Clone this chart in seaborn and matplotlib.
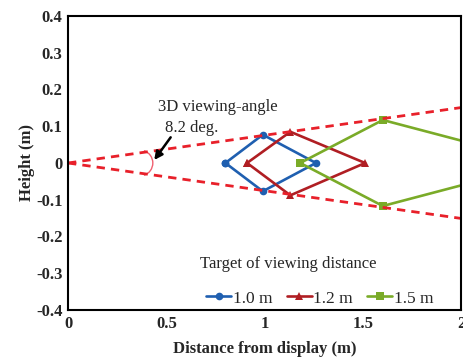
import numpy as np
import pandas as pd
import matplotlib
matplotlib.use("Agg")
import matplotlib.pyplot as plt
from matplotlib.patches import Arc
import seaborn as sns

# Data
series_names = ["1.0 m", "1.2 m", "1.5 m"]
x_10 = [0.80, 0.99, 1.26, 0.99, 0.80]
y_10 = [0.0, 0.077, 0.0, -0.077, 0.0]
x_12 = [0.91, 1.13, 1.51, 1.13, 0.91]
y_12 = [0.0, 0.085, 0.0, -0.088, 0.0]
x_15 = [1.18, 1.60, 2.43, 1.60, 1.18]
y_15 = [0.0, 0.117, 0.0, -0.117, 0.0]
boundary_x = [0.0, 2.0]
boundary_upper = [0.0, 0.151]
boundary_lower = [0.0, -0.151]
x_ticks = [0, 0.5, 1, 1.5, 2]
x_ticklabels = ["0", "0.5", "1", "1.5", "2"]
y_ticks = [-0.4, -0.3, -0.2, -0.1, 0, 0.1, 0.2, 0.3, 0.4]
y_ticklabels = ["-0.4", "-0.3", "-0.2", "-0.1", "0", "0.1", "0.2", "0.3", "0.4"]

sns.set_style("white")
plt.rcParams["font.family"] = ["Liberation Serif", "DejaVu Serif"]

fig = plt.figure(figsize=(4.64, 3.58), dpi=100)
ax = fig.add_axes([0.1466, 0.1341, 0.848, 0.8212])

colors = ["#1f5fb0", "#b01e23", "#7aab28"]
markers = ["o", "^", "s"]
rows = []
for name, xs, ys in zip(series_names, [x_10, x_12, x_15], [y_10, y_12, y_15]):
    for i, (xv, yv) in enumerate(zip(xs, ys)):
        rows.append({"series": name, "order": i, "x": xv, "y": yv})
df = pd.DataFrame(rows)

sns.lineplot(data=df, x="x", y="y", hue="series", style="series", sort=False,
             units="series", estimator=None, palette=colors, markers=markers,
             dashes=False, markersize=5.5, linewidth=1.9, markeredgewidth=0,
             ax=ax, legend=True)

# dashed red viewing boundary
for yb in [boundary_upper, boundary_lower]:
    sns.lineplot(x=boundary_x, y=yb, color="#e8202a", linestyle=(0, (3, 2.2)),
                 linewidth=2.0, ax=ax, legend=False)

ax.set_xlim(0, 2)
ax.set_ylim(-0.4, 0.4)

# small angle arc
ax.add_patch(Arc((0.365, 0.0), 0.132, 0.0707, theta1=-58, theta2=58,
                 color="#f06070", linewidth=1.0))

ax.annotate("", xy=(0.43, 0.002), xytext=(0.53, 0.076),
            arrowprops=dict(arrowstyle="-|>", color="black", lw=1.8, mutation_scale=12))
ax.text(0.76, 0.152, "3D viewing-angle", ha="center", va="center", fontsize=12)
ax.text(0.63, 0.095, "8.2 deg.", ha="center", va="center", fontsize=12)

ax.set_xticks(x_ticks)
ax.set_xticklabels(x_ticklabels)
ax.set_yticks(y_ticks)
ax.set_yticklabels(y_ticklabels)
ax.tick_params(direction="in", length=3, width=0.8, color="#888888",
               labelsize=12, pad=4)
for lab in ax.get_xticklabels() + ax.get_yticklabels():
    lab.set_fontweight("bold")
for s in ax.spines.values():
    s.set_visible(True)
    s.set_color("black")
    s.set_linewidth(1.5)

ax.set_xlabel("Distance from display (m)", fontsize=12, fontweight="bold", labelpad=7)
ax.set_ylabel("Height (m)", fontsize=12, fontweight="bold", labelpad=1)

handles, labels = ax.get_legend_handles_labels()
leg = ax.legend(handles, labels, ncol=3,
                loc="lower center", bbox_to_anchor=(0.64, -0.012), frameon=False,
                fontsize=12.5, handlelength=1.45,
                handletextpad=0.1, columnspacing=0.8, borderaxespad=0.0)
ax.text(1.12, -0.274, "Target of viewing distance", ha="center", va="center", fontsize=12)

fig.savefig("out.png", dpi=100)
